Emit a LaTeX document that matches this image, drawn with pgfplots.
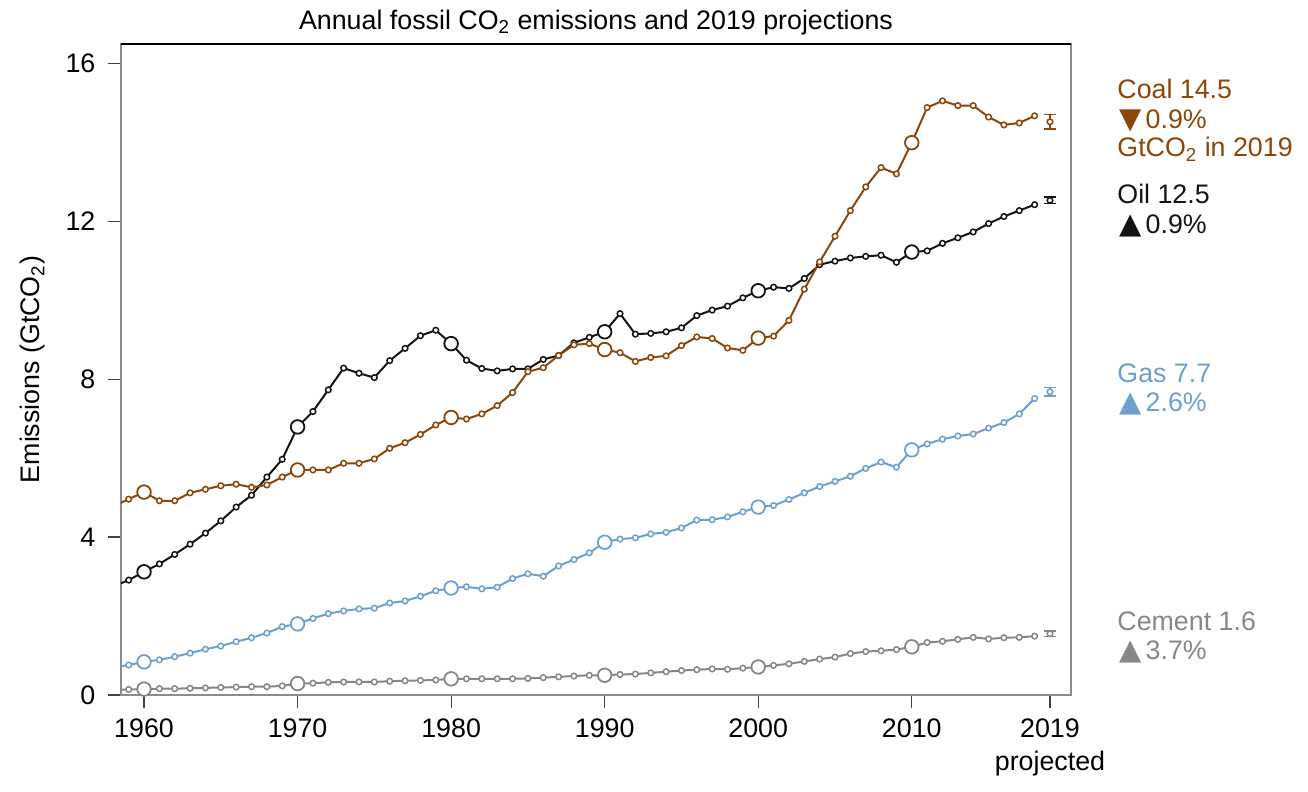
\documentclass[border=0pt]{standalone}
\usepackage{fontspec}
\setmainfont{Liberation Sans}
\newfontfamily\sym{DejaVu Sans}
\usepackage{pgfplots}
\pgfplotsset{compat=1.18}
\usepackage{pgfplotstable}

\definecolor{coal}{RGB}{140,70,10}
\definecolor{oil}{RGB}{20,20,20}
\definecolor{gas}{RGB}{110,160,205}
\definecolor{cement}{RGB}{135,135,135}

% year coal oil gas cement (GtCO2)
\pgfplotstableread{
year coal  oil   gas  cement
1958 4.78  2.75  0.70 0.13
1959 4.96  2.91  0.76 0.14
1960 5.14  3.12  0.84 0.15
1961 4.92  3.32  0.89 0.16
1962 4.92  3.56  0.97 0.16
1963 5.12  3.82  1.06 0.17
1964 5.21  4.10  1.16 0.18
1965 5.30  4.41  1.24 0.19
1966 5.34  4.76  1.35 0.20
1967 5.26  5.06  1.45 0.21
1968 5.32  5.52  1.57 0.21
1969 5.52  5.97  1.73 0.23
1970 5.70  6.79  1.80 0.29
1971 5.70  7.18  1.94 0.30
1972 5.70  7.73  2.06 0.32
1973 5.87  8.28  2.13 0.33
1974 5.87  8.15  2.18 0.33
1975 5.98  8.04  2.20 0.33
1976 6.25  8.47  2.33 0.35
1977 6.39  8.78  2.38 0.36
1978 6.60  9.10  2.50 0.37
1979 6.84  9.24  2.64 0.38
1980 7.03  8.90  2.71 0.41
1981 6.99  8.48  2.74 0.41
1982 7.12  8.27  2.69 0.41
1983 7.33  8.21  2.73 0.41
1984 7.66  8.26  2.95 0.41
1985 8.19  8.26  3.07 0.42
1986 8.29  8.50  3.01 0.44
1987 8.60  8.60  3.27 0.46
1988 8.87  8.92  3.43 0.48
1989 8.90  9.06  3.60 0.50
1990 8.75  9.20  3.87 0.50
1991 8.67  9.66  3.95 0.52
1992 8.45  9.14  3.98 0.53
1993 8.55  9.16  4.08 0.56
1994 8.59  9.20  4.12 0.59
1995 8.85  9.30  4.23 0.62
1996 9.07  9.61  4.43 0.64
1997 9.03  9.75  4.44 0.66
1998 8.79  9.85  4.51 0.65
1999 8.73  10.06 4.64 0.68
2000 9.04  10.24 4.76 0.71
2001 9.09  10.33 4.80 0.75
2002 9.49  10.30 4.95 0.79
2003 10.28 10.55 5.12 0.85
2004 10.97 10.90 5.28 0.91
2005 11.62 10.99 5.41 0.96
2006 12.27 11.07 5.54 1.05
2007 12.87 11.11 5.74 1.10
2008 13.36 11.14 5.90 1.12
2009 13.20 10.96 5.77 1.15
2010 13.99 11.22 6.21 1.22
2011 14.88 11.25 6.36 1.33
2012 15.05 11.44 6.48 1.36
2013 14.93 11.58 6.56 1.41
2014 14.93 11.73 6.61 1.46
2015 14.64 11.94 6.76 1.42
2016 14.44 12.12 6.90 1.45
2017 14.49 12.27 7.12 1.46
2018 14.67 12.42 7.51 1.49
}\emissions

% 2019 projections with uncertainty
\pgfplotstableread{
year coal  cerr oil   oerr gas  gerr cement merr
2019 14.52 0.18 12.53 0.08 7.68 0.11 1.55 0.07
}\projection

\pgfplotsset{
  series/.style={#1, line width=1pt, no marks},
  yearly/.style={#1, only marks, mark=*, skip coords between index={0}{1},
    mark options={fill=white, line width=0.75pt}, mark size=1.4pt},
  decade/.style={#1, only marks, mark=*, mark indices={2,12,22,32,42,52},
    mark options={fill=white, line width=0.9pt}, mark size=3.4pt},
  proj/.style={#1, only marks, mark=*, mark size=1.4pt,
    mark options={fill=white, line width=0.75pt},
    error bars/.cd, y dir=both, y explicit,
    error bar style={line width=0.75pt},
    error mark options={rotate=90, line width=0.75pt, mark size=2.9pt}},
}

\newcommand{\lab}{\fontsize{13.4}{16.5}\selectfont}
\newcommand{\tri}[1]{{\fontsize{14.5}{16}\sym #1}\kern2pt}

\begin{document}
\begin{tikzpicture}
\path[use as bounding box] (-60.5pt,-48.5pt) rectangle (593.5pt,347.5pt);
\begin{axis}[
  at={(0,0)}, anchor=south west,
  width=475pt, height=325.5pt, scale only axis,
  xmin=1958.5, xmax=2020.37,
  ymin=0, ymax=16.49,
  xtick={1960,1970,1980,1990,2000,2010,2019},
  xticklabels={1960,1970,1980,1990,2000,2010,{2019\\projected}},
  ytick={0,4,8,12,16},
  tick align=outside, xtick pos=bottom, ytick pos=left,
  major tick length=6.3pt,
  tick style={black!75, line width=0.6pt},
  axis line style={black!45, line width=1pt},
  /pgf/number format/assume math mode=true,
  ticklabel style={font=\lab},
  xticklabel style={align=center, yshift=-2pt},
  yticklabel style={xshift=-3pt},
  title={Annual fossil CO\textsubscript{2} emissions and 2019 projections},
  title style={font=\lab, at={(0.5,1)}, anchor=base,
    inner sep=0pt, yshift=1.2pt},
  ylabel={Emissions (GtCO\textsubscript{2})},
  ylabel style={font=\lab,
    at={(axis description cs:-0.0926,0.5)}, anchor=center},
  clip=true,
]
\addplot[series=cement] table[x=year, y=cement] {\emissions};
\addplot[yearly=cement] table[x=year, y=cement] {\emissions};
\addplot[series=gas] table[x=year, y=gas] {\emissions};
\addplot[yearly=gas] table[x=year, y=gas] {\emissions};
\addplot[series=oil] table[x=year, y=oil] {\emissions};
\addplot[yearly=oil] table[x=year, y=oil] {\emissions};
\addplot[series=coal] table[x=year, y=coal] {\emissions};
\addplot[yearly=coal] table[x=year, y=coal] {\emissions};

\addplot[decade=cement] table[x=year, y=cement] {\emissions};
\addplot[decade=gas] table[x=year, y=gas] {\emissions};
\addplot[decade=oil] table[x=year, y=oil] {\emissions};
\addplot[decade=coal] table[x=year, y=coal] {\emissions};

\addplot[proj=coal] table[x=year, y=coal, y error=cerr] {\projection};
\addplot[proj=oil] table[x=year, y=oil, y error=oerr] {\projection};
\addplot[proj=gas] table[x=year, y=gas, y error=gerr] {\projection};
\addplot[proj=cement] table[x=year, y=cement, y error=merr] {\projection};

\draw[black, line width=0.7pt] (rel axis cs:0,1) -- (rel axis cs:1,1);
\end{axis}

\begin{scope}[every node/.style={anchor=base west, inner sep=0pt, font=\lab}]
\node[text=coal] at (498pt,298pt) {Coal 14.5};
\node[text=coal] at (499pt,283.35pt) {\tri{▼}0.9\%};
\node[text=coal] at (498pt,269.15pt) {GtCO\textsubscript{2} in 2019};
\node[text=oil] at (498pt,245.5pt) {Oil 12.5};
\node[text=oil] at (499pt,230.85pt) {\tri{▲}0.9\%};
\node[text=gas] at (498pt,156.15pt) {Gas 7.7};
\node[text=gas] at (499pt,141.65pt) {\tri{▲}2.6\%};
\node[text=cement] at (498pt,32.15pt) {Cement 1.6};
\node[text=cement] at (499pt,17.85pt) {\tri{▲}3.7\%};
\end{scope}
\end{tikzpicture}
\end{document}
